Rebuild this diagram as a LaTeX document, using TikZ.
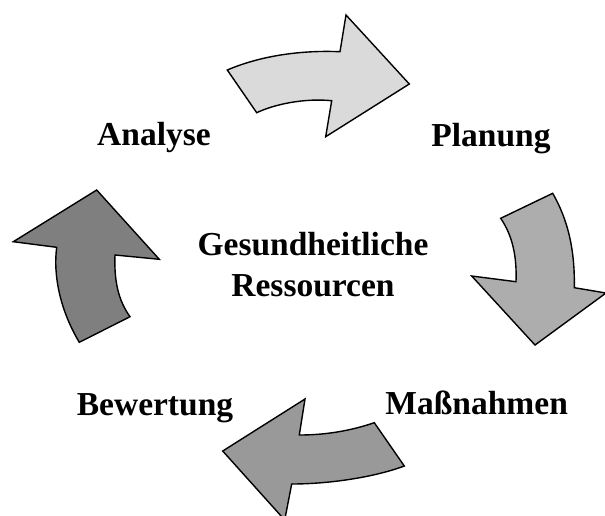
\documentclass[tikz,border=0pt]{standalone}
\usepackage{fontspec}
\setmainfont{Liberation Serif}
\begin{document}
\begin{tikzpicture}[x=1pt,y=-1pt,
  arr/.style={draw=black,line width=1.4pt,line join=miter},
  lbl/.style={anchor=base,inner sep=0pt,font=\bfseries\fontsize{33.5}{40}\selectfont}]
\useasboundingbox (0,0) rectangle (605,515);
\clip (0,0) rectangle (605,515);
\definecolor{c1}{HTML}{DADADA}
\definecolor{c2}{HTML}{ADADAD}
\definecolor{c3}{HTML}{999999}
\definecolor{c4}{HTML}{7F7F7F}
% top arrow
\draw[arr,fill=c1] (227.3,70) .. controls (260,56) and (300,50) .. (340,51.7)
  -- (346,15) -- (409.3,84) -- (325.7,136.7) -- (331.7,100.7)
  .. controls (305,98) and (275,104) .. (256.7,112.7) -- cycle;
% right arrow
\draw[arr,fill=c2] (500.7,218.3) -- (552.7,193.3)
  .. controls (568,220) and (575,250) .. (574.3,287.7)
  -- (606,293) -- (535,345) -- (471.7,276) -- (516,281.7)
  .. controls (517,255) and (512,235) .. cycle;
% bottom arrow
\draw[arr,fill=c3] (374.3,422.7) -- (404.3,466)
  .. controls (375,477) and (330,484) .. (291.7,484)
  -- (284.7,520) -- (222.7,451) -- (305,399) -- (299.3,435)
  .. controls (325,435) and (350,431) .. cycle;
% left arrow
\draw[arr,fill=c4] (79.3,342.3) -- (130,316.7)
  .. controls (118,300) and (114,280) .. (115,255)
  -- (159.3,259.3) -- (96.7,190) -- (13.3,241.7) -- (56.7,247.3)
  .. controls (53,275) and (60,310) .. cycle;
\node[lbl] (analyse) at (154,145.7) {Analyse};
\node[lbl] (planung) at (491,146.7) {Planung};
\node[lbl] (gesund) at (313,255) {Gesundheitliche};
\node[lbl] (ress) at (313,296) {Ressourcen};
\node[lbl] (bewertung) at (155,415) {Bewertung};
\node[lbl] (massnahmen) at (476.7,414) {Maßnahmen};
\end{tikzpicture}
\end{document}
